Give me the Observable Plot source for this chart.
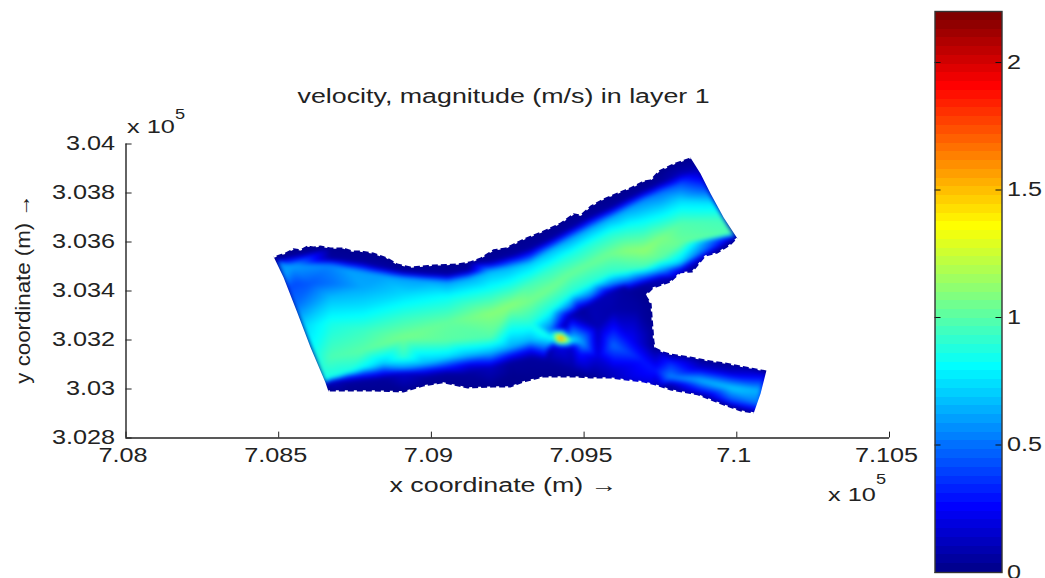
<!DOCTYPE html>
<html><head><meta charset="utf-8">
<script src="https://cdn.jsdelivr.net/npm/d3@7"></script>
<script src="https://cdn.jsdelivr.net/npm/@observablehq/plot@0.6"></script>
<style>
html,body{margin:0;padding:0;background:#fff;overflow:hidden}
#wrap{position:relative;width:1045px;height:578px;overflow:hidden}
#wrap svg{position:absolute;left:0;top:0;background:transparent}
</style></head><body><div id="wrap"></div>
<script>
const titleText = "velocity, magnitude (m/s) in layer 1";
const xLabelText = "x coordinate (m) →";
const yLabelText = "y coordinate (m) →";
const xTicks = [708000,708500,709000,709500,710000,710500];
const xTickLabels = ["7.08","7.085","7.09","7.095","7.1","7.105"];
const yTicks = [302800,303000,303200,303400,303600,303800,304000];
const yTickLabels = ["3.028","3.03","3.032","3.034","3.036","3.038","3.04"];
const barTicks = [0,0.5,1,1.5,2];
const barTickLabels = ["0","0.5","1","1.5","2"];
const barLevels = [0,.034,.069,.103,.138,.172,.206,.241,.275,.309,.344,.378,.413,.447,.481,.516,.55,.584,.619,.653,.688,.722,.756,.791,.825,.859,.894,.928,.963,.997,1.031,1.066,1.1,1.134,1.169,1.203,1.238,1.272,1.306,1.341,1.375,1.409,1.444,1.478,1.513,1.547,1.581,1.616,1.65,1.684,1.719,1.753,1.788,1.822,1.856,1.891,1.925,1.959,1.994,2.028,2.063,2.097,2.131,2.166];
const jetDomain = [.017,.258,.808,1.358,1.908,2.183];
const jetRange = ["#00008f","#0000ff","#00ffff","#ffff00","#ff0000","#800000"];

// velocity samples: easting (m), northing (m), speed (m/s)
const sampleX = [
708490,708499,708516,708532,708555,708581,708611,708637,708650,708657,708663,
708670,708670,708670,708670,708670,708670,708670,708670,708670,708670,
708778,708778,708778,708778,708778,708778,708778,708778,708778,708778,708778,
708909,708909,708909,708909,708909,708909,708909,708909,708909,708909,
709053,709053,709053,709053,709053,709053,709053,709053,709053,709053,
709194,709194,709194,709194,709194,709194,709194,709194,709194,
709325,709325,709325,709325,709325,709325,709325,709325,709325,709325,
709456,709456,709456,709456,709456,709456,709456,709456,
709586,709586,709586,709586,709586,709586,709586,709586,
709695,709695,709695,709695,709695,709695,709695,709695,
709816,709816,709816,709816,709816,709816,709816,709816,709816,
709855,709868,709898,709924,709957,709986,709992,710002,
709423,709465,709495,709400,709423,709433,709383,709400,
709374,709390,709433,709521,
709596,709488,709456,709544,709544,709488,709596,709675,709708,709652,709695,709596,709465,709652,709717,
709734,709734,709734,
709783,709783,709783,709783,709783,
709881,709881,709881,709881,709881,
709979,709979,709979,709979,709979,
710097,710091,710078,710068,710055,
709704,709724,709727,709636,
709259,709259,709259,709259,709259,709259,709259,709259,
709390,709390,709390,709390,709390,709390,709390,709374,709383,
709521,709521,709521,709521,709521,709521,709521,709521,
709642,709642,709642,709642,709642,709642,709642,709642,
709750,709750,709750,709750,709750,709750,709750,709750,
708725,708725,708725,708725,708725,708725,708725,
708843,708843,708843,708843,708843,708843,708843,
708981,708981,708981,708981,708981,708981,708981,
709122,709122,709122,709122,709122,709122,709122,
708555,708604,708548
];
const sampleY = [
303533,303516,303463,303410,303341,303259,303157,303076,303035,303018,302990,
303578,303533,303504,303431,303374,303268,303129,303047,303027,302990,
303557,303516,303476,303414,303333,303239,303157,303088,303063,303035,302990,
303504,303480,303451,303390,303292,303210,303129,303084,303063,302986,
303508,303468,303435,303374,303272,303198,303129,303088,303063,303018,
303565,303521,303480,303402,303308,303210,303145,303088,303006,
303627,303574,303512,303431,303361,303268,303198,303157,303125,303043,
303708,303659,303614,303553,303472,303390,303333,303300,
303778,303741,303696,303635,303553,303472,303423,303394,
303843,303810,303770,303688,303565,303496,303451,303423,
303925,303880,303839,303770,303676,303594,303516,303484,303451,
303941,303892,303823,303757,303688,303635,303619,303610,
303206,303198,303186,303206,303169,303251,303218,303178,
303116,303047,303047,303043,
303178,303145,303169,303129,303251,303321,303321,303321,303227,303198,303116,303076,303076,303047,303006,
303169,303076,303006,
303145,303104,303047,303018,302994,
303125,303088,303035,302994,302969,
303104,303068,303006,302953,302925,
303076,303055,302994,302941,302900,
303382,303349,303251,303414,
303594,303545,303496,303341,303169,303133,303108,303055,
303668,303614,303565,303492,303410,303321,303239,303169,303149,
303749,303704,303655,303594,303512,303431,303378,303345,
303814,303778,303733,303659,303565,303484,303435,303402,
303888,303843,303802,303725,303614,303533,303484,303447,
303570,303525,303488,303068,303047,303027,302990,
303541,303496,303463,303104,303068,303043,302990,
303504,303472,303443,303104,303068,303047,303010,
303516,303484,303451,303137,303096,303063,303002,
303431,303431,303504
];
const sampleV = [
.02,.55,.6,.42,.5,.72,.82,.87,.85,.03,.02,
.02,.05,.55,.5,.66,.85,.97,.85,.12,.02,
.02,.05,.6,.62,.75,.93,1,.8,.4,.05,.02,
.02,.05,.6,.72,.92,1.06,.9,.55,.15,.02,
.02,.05,.6,.82,1.02,1,.72,.3,.05,.02,
.02,.05,.65,.85,1.1,.98,.62,.12,.02,
.02,.05,.7,.95,1.06,.88,.65,.25,.05,.02,
.02,.05,.6,.85,1.03,.88,.5,.1,
.02,.05,.62,.87,1.05,.9,.5,.1,
.02,.05,.55,.8,1.12,.95,.4,.05,
.02,.1,.42,.72,.98,1.03,.7,.2,.03,
.02,.1,.4,.75,.95,.98,.15,.02,
1.75,.75,.6,.85,.2,.1,.85,.25,
.05,.02,.02,.02,
.48,.3,.15,.18,.1,.05,.08,.06,.08,.25,.3,.15,.05,.2,.15,
.02,.3,.05,
.02,.35,.55,.1,.02,
.02,.15,.65,.3,.02,
.02,.15,.7,.4,.02,
.02,.2,.65,.5,.02,
.02,.02,.03,.03,
.02,.05,.65,1.1,.62,.25,.05,.02,
.02,.05,.65,.9,1.05,.85,.5,.5,.05,
.02,.05,.62,.87,1.03,.88,.5,.1,
.02,.05,.6,.85,1.1,.92,.45,.05,
.02,.05,.5,.75,1.08,1,.6,.1,
.02,.05,.6,.85,.3,.05,.02,
.02,.06,.6,.7,.3,.05,.02,
.02,.06,.6,.65,.2,.05,.02,
.02,.06,.62,.65,.2,.05,.02,
.42,.45,.6
];
const samples = sampleX.map((x,i)=>({x,y:sampleY[i],v:sampleV[i]}));

// wetted outline of the river, bank by bank
const outlineX = [708483,708522,708548,708571,708594,708614,708637,708670,708712,708742,708768,708810,708856,708889,708932,709007,709085,709128,709161,709203,709243,709302,709367,709423,709465,709488,709521,709563,709609,709652,709695,709717,709744,709793,709848,709881,709914,709957,710002,709979,709937,709898,709855,709816,709783,709727,709704,709721,709724,709727,709730,709734,709760,709783,709848,709914,709963,710012,710097,710078,710055,710012,709957,709871,709783,709734,709695,709636,709586,709521,709472,709433,709367,709302,709259,709203,709118,709039,708974,708909,708810,708735,708663,708653,708604,708562,708516,708483];
const outlineY = [303541,303557,303574,303570,303586,303582,303586,303578,303578,303565,303565,303557,303537,303512,303500,303508,303512,303521,303537,303570,303578,303614,303647,303680,303717,303712,303749,303778,303802,303823,303851,303855,303892,303921,303945,303880,303798,303700,303614,303586,303553,303541,303476,303472,303435,303410,303382,303349,303300,303251,303198,303169,303153,303145,303133,303116,303108,303096,303076,302982,302900,302908,302933,302974,302994,303014,303027,303035,303043,303043,303047,303047,303047,303027,303006,303006,303002,303023,303010,302986,302990,302990,302990,303027,303170,303308,303455,303541];
// where each bank runs in the outline: [first, last] point
const bankSpans = [[0,34],[38,58],[60,82]];

const colorOpts = {type:"linear",domain:jetDomain,range:jetRange,interpolate:"rgb"};
const frameCorners = [[707960,302750],[707960,304050],[710540,304050],[710540,302750],[707960,302750]];
const outlinePts = outlineX.map((x,i)=>[x,outlineY[i]]);
const mask = [...frameCorners, ...outlinePts.slice().reverse(), [707960,302750]];
const bankPts = bankSpans.flatMap(([a,b],k)=>outlinePts.slice(a,b+1).map(p=>({x:p[0],y:p[1],bank:k})));
const textStyle = {fontFamily:"'Liberation Sans',Arial,sans-serif",color:"#222",background:"transparent"};
const W=1045,H=578;

const main = Plot.plot({
  width:W,height:H,
  marginLeft:125.5,marginRight:156,marginTop:143.5,marginBottom:140.5,
  style:textStyle,
  x:{domain:[708000,710500],axis:null},
  y:{domain:[302800,304000],axis:null},
  color:colorOpts,
  marks:[
    Plot.raster(samples,{x:"x",y:"y",fill:"v",interpolate:"barycentric",pixelSize:1,imageFilter:"blur(2px)"}),
    Plot.line(mask,{x:d=>d[0],y:d=>d[1],fill:"white",stroke:"none"}),
    Plot.line(bankPts,{x:"x",y:"y",z:"bank",stroke:"white",strokeWidth:2.5,strokeDasharray:"3 6",strokeLinecap:"butt"}),
    Plot.ruleX(xTicks,{x:d=>d,y1:302800,y2:302824,stroke:"#222",strokeWidth:1}),
    Plot.ruleY(yTicks,{y:d=>d,x1:708000,x2:708020,stroke:"#222",strokeWidth:1}),
    Plot.ruleX([708000],{stroke:"#222",strokeWidth:1.4}),
    Plot.ruleY([302800],{stroke:"#222",strokeWidth:1.4}),
    Plot.text(xTicks,{x:d=>d,y:302800,text:(d,i)=>xTickLabels[i],dx:-3,dy:18,fontSize:20,fill:"#222"}),
    Plot.text(yTicks,{x:708000,y:d=>d,text:(d,i)=>yTickLabels[i],dx:-11,textAnchor:"end",fontSize:20,fill:"#222"}),
    Plot.text([titleText],{frameAnchor:"top-left",dx:171.5,dy:-55,textAnchor:"start",fontSize:20,fill:"#222"}),
    Plot.text([xLabelText],{frameAnchor:"bottom-left",dx:263.5,dy:54,textAnchor:"start",fontSize:20,fill:"#222"}),
    Plot.text([yLabelText],{frameAnchor:"top-left",dx:-111,dy:145,rotate:-90,textAnchor:"middle",fontSize:21,fill:"#222"}),
    Plot.text(["x 10"],{frameAnchor:"top-left",dx:1,dy:-25,textAnchor:"start",fontSize:19,fill:"#222"}),
    Plot.text(["5"],{frameAnchor:"top-left",dx:49,dy:-35,textAnchor:"start",fontSize:14,fill:"#222"}),
    Plot.text(["x 10"],{frameAnchor:"bottom-left",dx:702,dy:63,textAnchor:"start",fontSize:19,fill:"#222"}),
    Plot.text(["5"],{frameAnchor:"bottom-left",dx:750,dy:46,textAnchor:"start",fontSize:14,fill:"#222"})
  ]
});

const bands = barLevels.map((v,i)=>({v1:v,v2:i+1<barLevels.length?barLevels[i+1]:2.2}));
const bar = Plot.plot({
  width:W,height:H,
  marginLeft:934.5,marginRight:43.5,marginTop:11,marginBottom:6,
  style:textStyle,
  x:{domain:[0,1],axis:null},
  y:{domain:[0,2.2],axis:null},
  color:colorOpts,
  marks:[
    Plot.rect(bands,{x1:0,x2:1,y1:"v1",y2:"v2",fill:d=>(d.v1+d.v2)/2,shapeRendering:"crispEdges"}),
    Plot.ruleY(barTicks,{y:d=>d,x1:0,x2:.09,stroke:"#111"}),
    Plot.ruleY(barTicks,{y:d=>d,x1:.91,x2:1,stroke:"#111"}),
    Plot.frame({stroke:"#333",strokeWidth:1.4}),
    Plot.text(barTicks,{x:1,y:d=>d,text:(d,i)=>barTickLabels[i],dx:5,textAnchor:"start",fontSize:20,fill:"#222"})
  ]
});
const wrap=document.getElementById("wrap");
wrap.append(main,bar);

// the picture's lettering is stretched sideways: widen glyphs, not just gaps
const stretch = new Map([[titleText,1.34],[xLabelText,1.34],[yLabelText,1.06],["x 10",1.33],["5",1.3]]);
wrap.querySelectorAll("text").forEach(t=>{
  const f = stretch.get(t.textContent) ?? 1.26;
  const len = t.getComputedTextLength();
  t.setAttribute("lengthAdjust","spacingAndGlyphs");
  t.setAttribute("textLength",(len*f).toFixed(1));
});
</script></body></html>
